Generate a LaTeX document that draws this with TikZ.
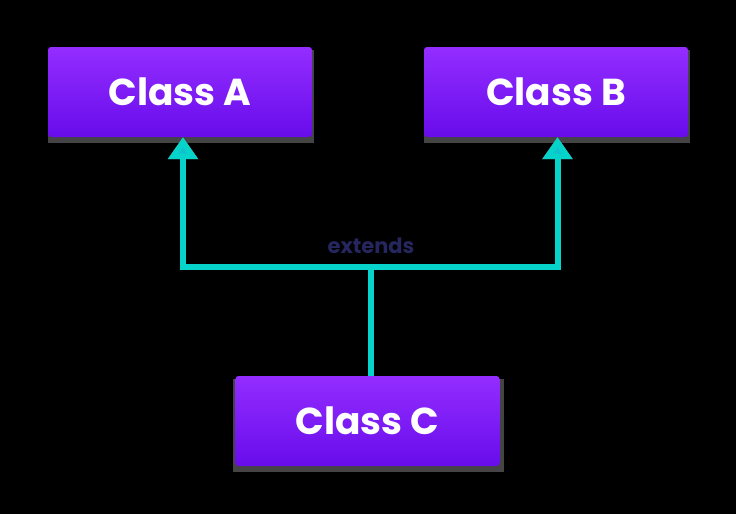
\documentclass[tikz,border=0pt]{standalone}
\usepackage{fontspec}
\setmainfont{Poppins}
\usetikzlibrary{arrows.meta,calc,positioning}
\definecolor{bgblack}{HTML}{000000}
\definecolor{boxtop}{HTML}{932DFF}
\definecolor{boxbot}{HTML}{680CEB}
\definecolor{boxshadow}{HTML}{444444}
\definecolor{linkcyan}{HTML}{06D3CA}
\definecolor{headcyan}{HTML}{10C2D0}
\definecolor{linkshadow}{HTML}{8C8C8C}
\definecolor{labelnavy}{HTML}{26265F}
\tikzset{
  classbox/.style={rectangle, rounded corners=3pt, minimum width=264pt,
    minimum height=90pt, inner sep=0pt, top color=boxtop, bottom color=boxbot,
    text=white, font=\fontsize{37.5}{42}\selectfont\bfseries},
  boxshade/.style={fill=boxshadow},
  link/.style={draw=linkcyan, line width=6pt},
  linkshade/.style={draw=linkshadow, line width=6pt},
  headtip/.style={-{Triangle[width=29pt,length=22pt,fill=headcyan]}},
  headshade/.style={-{Triangle[width=29pt,length=22pt]}},
  linklabel/.style={text=labelnavy, font=\fontsize{21}{24}\selectfont\bfseries}
}
\begin{document}
\begin{tikzpicture}[x=1pt,y=-1pt]
  \fill[bgblack] (0,0) rectangle (736,514);
  \useasboundingbox (0,0) rectangle (736,514);

  % drop shadows of the three boxes
  \fill[boxshade] (48,50) rectangle (314,143);
  \fill[boxshade] (424,50) rectangle (690,143);
  \fill[boxshade] (233,379) rectangle (504,472);

  % class boxes
  \node[classbox] (A) at (180,92) {Class A};
  \node[classbox] (B) at (556,92) {Class B};
  \node[classbox] (C) at (367.5,421) {Class C};

  % junction where the inheritance lines meet
  \coordinate (j) at (370.5,267);
  \coordinate (ja) at ([xshift=3pt]A.south);
  \coordinate (jb) at ([xshift=1.5pt]B.south);

  % thin shadows of the connectors
  \begin{scope}[shift={(2,2)}]
    \draw[linkshade] (j |- C.north) -- (j);
    \draw[linkshade, headshade] (j) -| (ja);
    \draw[linkshade, headshade] (j) -| (jb);
  \end{scope}

  % connectors
  \draw[link] (j |- C.north) -- (j);
  \draw[link, headtip] (j) -| (ja);
  \draw[link, headtip] (j) -| (jb);

  \node[linklabel] (ext) at (371,246) {extends};
\end{tikzpicture}
\end{document}
